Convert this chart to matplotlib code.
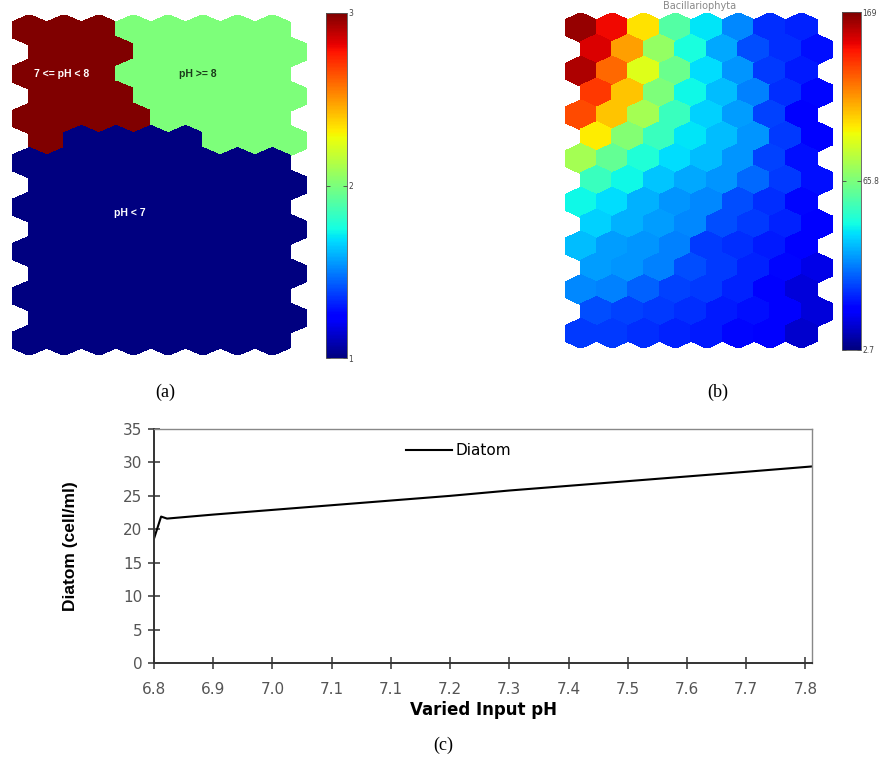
import numpy as np
import matplotlib.pyplot as plt
from matplotlib.collections import PolyCollection
from matplotlib.colors import Normalize

# (a) cluster map of the SOM, 15 rows x 8 cols (1: pH<7, 2: pH>=8, 3: 7<=pH<8)
ph_cluster = [
    [3, 3, 3, 2, 2, 2, 2, 2],
    [3, 3, 3, 2, 2, 2, 2, 2],
    [3, 3, 3, 2, 2, 2, 2, 2],
    [3, 3, 3, 2, 2, 2, 2, 2],
    [3, 3, 3, 3, 2, 2, 2, 2],
    [3, 1, 1, 1, 1, 2, 2, 2],
    [1, 1, 1, 1, 1, 1, 1, 1],
    [1, 1, 1, 1, 1, 1, 1, 1],
    [1, 1, 1, 1, 1, 1, 1, 1],
    [1, 1, 1, 1, 1, 1, 1, 1],
    [1, 1, 1, 1, 1, 1, 1, 1],
    [1, 1, 1, 1, 1, 1, 1, 1],
    [1, 1, 1, 1, 1, 1, 1, 1],
    [1, 1, 1, 1, 1, 1, 1, 1],
    [1, 1, 1, 1, 1, 1, 1, 1],
]
cluster_names = ["7 <= pH < 8", "pH >= 8", "pH < 7"]
cluster_ticks = [1, 2, 3]

# (b) component plane (normalised 0..1 colour scale)
bacillario = [
    [0.98, 0.90, 0.67, 0.45, 0.35, 0.26, 0.17, 0.16],
    [0.92, 0.74, 0.53, 0.38, 0.29, 0.20, 0.17, 0.14],
    [0.96, 0.80, 0.62, 0.48, 0.34, 0.27, 0.18, 0.15],
    [0.85, 0.70, 0.50, 0.37, 0.31, 0.25, 0.17, 0.13],
    [0.83, 0.70, 0.55, 0.42, 0.33, 0.28, 0.19, 0.12],
    [0.66, 0.51, 0.42, 0.35, 0.31, 0.27, 0.18, 0.11],
    [0.55, 0.47, 0.39, 0.34, 0.31, 0.27, 0.19, 0.14],
    [0.42, 0.37, 0.32, 0.29, 0.27, 0.23, 0.18, 0.14],
    [0.37, 0.34, 0.30, 0.27, 0.26, 0.20, 0.17, 0.13],
    [0.33, 0.30, 0.28, 0.26, 0.20, 0.18, 0.16, 0.12],
    [0.31, 0.28, 0.27, 0.25, 0.18, 0.17, 0.15, 0.12],
    [0.28, 0.27, 0.25, 0.20, 0.18, 0.16, 0.13, 0.09],
    [0.26, 0.25, 0.22, 0.19, 0.18, 0.16, 0.12, 0.08],
    [0.20, 0.19, 0.18, 0.17, 0.15, 0.14, 0.11, 0.08],
    [0.18, 0.18, 0.17, 0.16, 0.15, 0.13, 0.11, 0.07],
]
bacillario_ticks = [0.0, 0.5, 1.0]
bacillario_labels = ["2.7", "65.8", "169"]

# (c) sensitivity of diatom to input pH (x in tick-index units)
ph_labels = ["6.8", "6.9", "7.0", "7.1", "7.1", "7.2", "7.3", "7.4", "7.5", "7.6", "7.7", "7.8"]
diatom_x = [0, 0.12, 0.22, 1, 2, 3, 4, 5, 6, 7, 8, 9, 10, 11.11]
diatom_y = [18.6, 21.9, 21.6, 22.2, 22.9, 23.6, 24.3, 25.0, 25.8, 26.5, 27.2, 27.9, 28.6, 29.4]

W, H = 885, 758
fig = plt.figure(figsize=(W / 100, H / 100), dpi=100)


def px_axes(x0, y0, x1, y1):
    return fig.add_axes([x0 / W, 1 - y1 / H, (x1 - x0) / W, (y1 - y0) / H])


def hex_map(ax, values, norm):
    values = np.asarray(values, dtype=float)
    rows, cols = values.shape
    r = 1 / np.sqrt(3)
    ang = np.deg2rad([90, 30, -30, -90, -150, 150])
    verts = []
    for i in range(rows):
        for j in range(cols):
            cx = j + 0.5 * (i % 2)
            cy = i * np.sqrt(0.75)
            verts.append(np.column_stack([cx + r * np.cos(ang), cy + r * np.sin(ang)]))
    coll = PolyCollection(verts, cmap="jet", norm=norm, edgecolors="face",
                          linewidths=0.6, antialiaseds=False)
    coll.set_array(values.ravel())
    ax.add_collection(coll)
    ax.set_xlim(-0.5, cols)
    ax.set_ylim((rows - 1) * np.sqrt(0.75) + r, -r)
    ax.set_axis_off()
    return coll


def style_cbar(cb, ticks, labels):
    cb.set_ticks(ticks)
    cb.set_ticklabels(labels)
    cb.outline.set_linewidth(0.6)
    cb.outline.set_edgecolor("#555555")
    cb.ax.tick_params(direction="in", left=True, right=True, length=3, width=0.6,
                      color="#444444", labelsize=5.5, labelcolor="#444444", pad=1)


# (a)
ax_a = px_axes(12, 15, 307, 355)
coll_a = hex_map(ax_a, ph_cluster, Normalize(1, 3))
ax_a.text(0.94, 1.73, cluster_names[0], color="white", fontsize=7.5, fontweight="bold",
          family="Liberation Sans", ha="center", va="center")
ax_a.text(4.86, 1.73, cluster_names[1], color="#1a3a1a", fontsize=7.5, fontweight="bold",
          family="Liberation Sans", ha="center", va="center")
ax_a.text(2.9, 7.16, cluster_names[2], color="white", fontsize=7.5, fontweight="bold",
          family="Liberation Sans", ha="center", va="center")
cax_a = px_axes(326, 13, 347, 358)
style_cbar(fig.colorbar(coll_a, cax=cax_a), cluster_ticks, [str(t) for t in cluster_ticks])

# (b)
ax_b = px_axes(565, 13, 833, 348)
coll_b = hex_map(ax_b, bacillario, Normalize(0, 1))
cax_b = px_axes(842, 12, 861, 350)
style_cbar(fig.colorbar(coll_b, cax=cax_b), bacillario_ticks, bacillario_labels)
fig.text(700 / W, 1 - 6 / H, "Bacillariophyta", fontsize=7, color="#888888",
         ha="center", va="center")

# panel letters
for x, y, s in [(165, 392, "(a)"), (718, 392, "(b)"), (443, 745, "(c)")]:
    fig.text(x / W, 1 - y / H, s, family="Liberation Serif", fontsize=13,
             ha="center", va="center")

# (c)
ax_c = px_axes(154, 429, 812, 663)
ax_c.plot(diatom_x, diatom_y, color="black", linewidth=1.5, label="Diatom")
ax_c.set_xlim(0, 11.11)
ax_c.set_ylim(0, 35)
ax_c.set_xticks(range(len(ph_labels)))
ax_c.set_xticklabels(ph_labels)
ax_c.set_yticks(range(0, 36, 5))
ax_c.tick_params(direction="inout", length=9, width=1.1, color="#333333",
                 labelsize=11, labelcolor="#555555")
ax_c.tick_params(axis="x", pad=9)
ax_c.tick_params(axis="y", pad=4)
for side in ["left", "bottom"]:
    ax_c.spines[side].set_color("#333333")
    ax_c.spines[side].set_linewidth(1.4)
for side in ["top", "right"]:
    ax_c.spines[side].set_color("#888888")
    ax_c.spines[side].set_linewidth(1.0)
ax_c.set_xlabel("Varied Input pH", fontsize=12, fontweight="bold", labelpad=3)
ax_c.set_ylabel("Diatom (cell/ml)", family="Liberation Sans", fontsize=12.5,
                fontweight="bold", labelpad=32)
ax_c.legend(loc="center left", bbox_to_anchor=((406 - 154) / 658, (663 - 451) / 234),
            frameon=False, fontsize=11, handlelength=3.0, handletextpad=0.25,
            borderpad=0, borderaxespad=0)

fig.savefig("out.png", dpi=100)
